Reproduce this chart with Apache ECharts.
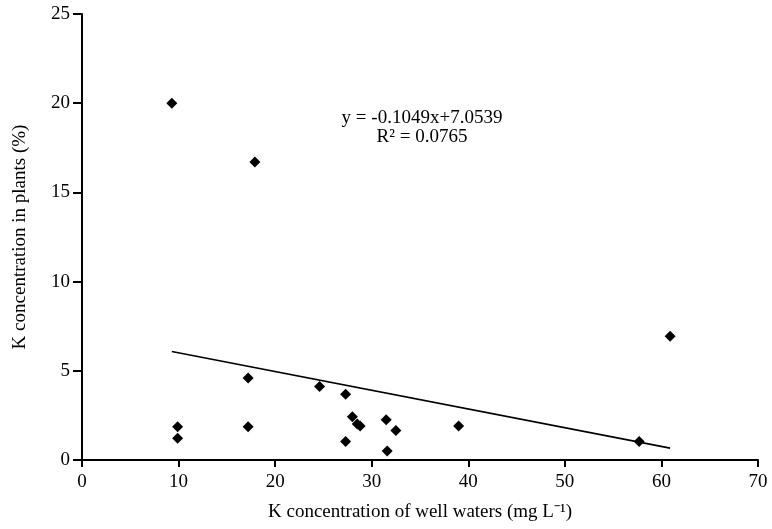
<!DOCTYPE html>
<html>
<head>
<meta charset="utf-8">
<script src="https://cdn.jsdelivr.net/npm/echarts@6/dist/echarts.min.js"></script>
<style>
html,body{margin:0;padding:0;background:#fff;}
#main{width:772px;height:529px;}
</style>
</head>
<body>
<div id="main"></div>
<script>
// Data
const wellK = [9.3, 17.9, 60.9, 17.2, 24.6, 27.3, 28.0, 28.5, 28.8, 31.5, 32.5, 39.0, 57.7, 9.9, 9.9, 17.2, 27.3, 31.6];
const plantK = [20.0, 16.7, 6.93, 4.6, 4.12, 3.69, 2.43, 2.02, 1.91, 2.25, 1.65, 1.91, 1.03, 1.87, 1.22, 1.87, 1.03, 0.5];
const slope = -0.1049;
const intercept = 7.0539;
const r2 = 0.0765;
const xTicks = [0, 10, 20, 30, 40, 50, 60, 70];
const yTicks = [0, 5, 10, 15, 20, 25];

const points = wellK.map((x, i) => [x, plantK[i]]);
const xMinData = Math.min(...wellK), xMaxData = Math.max(...wellK);
const trend = [[xMinData, slope * xMinData + intercept], [xMaxData, slope * xMaxData + intercept]];

const font = '"Liberation Serif", "Times New Roman", serif';
const chart = echarts.init(document.getElementById('main'));
chart.setOption({
  animation: false,
  backgroundColor: '#fff',
  textStyle: { fontFamily: font, color: '#000' },
  grid: { left: 82, right: 14, top: 14, bottom: 69, containLabel: false },
  xAxis: {
    type: 'value', min: xTicks[0], max: xTicks[xTicks.length - 1], interval: 10,
    name: 'K concentration of well waters (mg L⁻¹)',
    nameLocation: 'middle', nameGap: 43,
    nameTextStyle: { fontFamily: font, fontSize: 19, color: '#000' },
    axisLine: { lineStyle: { color: '#000', width: 2 } },
    axisTick: { show: true, inside: false, length: 7, lineStyle: { color: '#000', width: 2 } },
    axisLabel: { fontFamily: font, fontSize: 19, color: '#000', margin: 13 },
    splitLine: { show: false }
  },
  yAxis: {
    type: 'value', min: yTicks[0], max: yTicks[yTicks.length - 1], interval: 5,
    name: 'K concentration in plants (%)',
    nameLocation: 'middle', nameGap: 52, nameRotate: 90,
    nameTextStyle: { fontFamily: font, fontSize: 19, color: '#000' },
    axisLine: { lineStyle: { color: '#000', width: 2 } },
    axisTick: { show: true, inside: false, length: 9, lineStyle: { color: '#000', width: 2 } },
    axisLabel: { fontFamily: font, fontSize: 19, color: '#000', margin: 12 },
    splitLine: { show: false }
  },
  series: [
    {
      type: 'line', data: trend, symbol: 'none', silent: true,
      lineStyle: { color: '#000', width: 1.6 }, z: 2
    },
    {
      type: 'scatter', data: points, symbol: 'diamond', symbolSize: 11,
      itemStyle: { color: '#000', opacity: 1 }, z: 3
    }
  ],
  graphic: [
    { type: 'text', x: 422, y: 109, style: { text: 'y = ' + slope.toFixed(4) + 'x+' + intercept.toFixed(4), font: '19px ' + font, fill: '#000', textAlign: 'center', textVerticalAlign: 'top' } },
    { type: 'text', x: 422, y: 128, style: { text: 'R² = ' + r2.toFixed(4), font: '19px ' + font, fill: '#000', textAlign: 'center', textVerticalAlign: 'top' } }
  ]
});
</script>
</body>
</html>
